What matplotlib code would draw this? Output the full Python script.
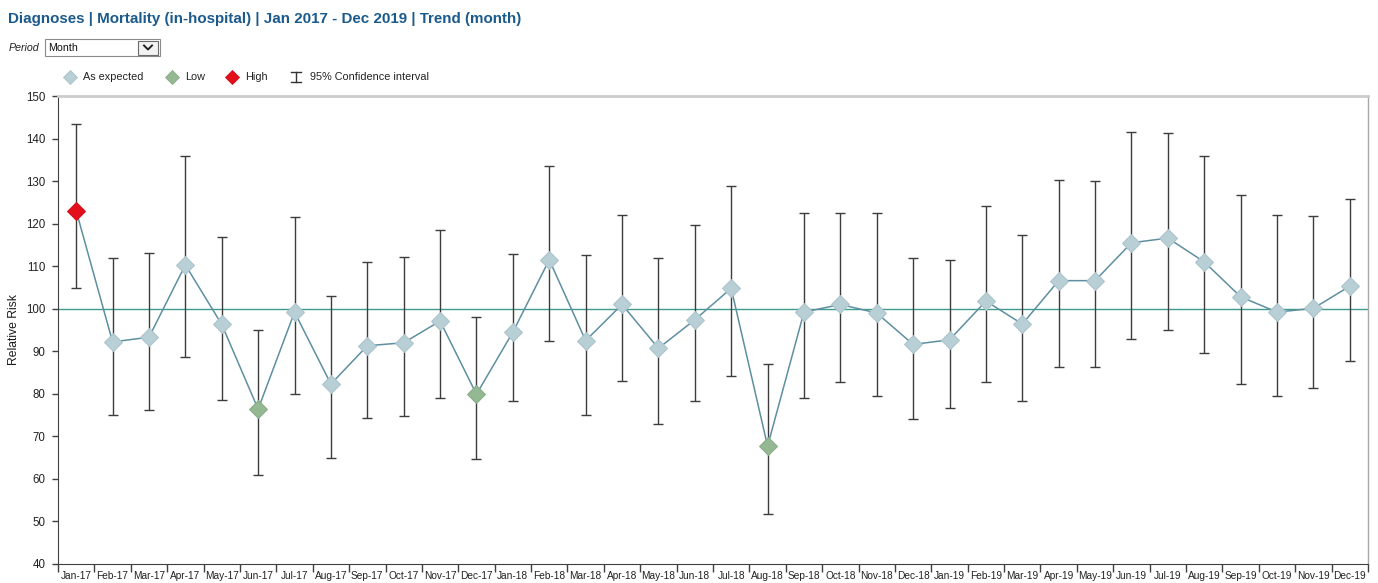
import matplotlib
matplotlib.use("Agg")
import matplotlib.pyplot as plt
from matplotlib.lines import Line2D
from matplotlib.patches import Rectangle
import numpy as np

plt.rcParams["font.family"] = ["Liberation Sans", "DejaVu Sans"]

# Monthly in-hospital mortality, relative risk with 95% confidence interval
months = ["Jan-17", "Feb-17", "Mar-17", "Apr-17", "May-17", "Jun-17",
          "Jul-17", "Aug-17", "Sep-17", "Oct-17", "Nov-17", "Dec-17",
          "Jan-18", "Feb-18", "Mar-18", "Apr-18", "May-18", "Jun-18",
          "Jul-18", "Aug-18", "Sep-18", "Oct-18", "Nov-18", "Dec-18",
          "Jan-19", "Feb-19", "Mar-19", "Apr-19", "May-19", "Jun-19",
          "Jul-19", "Aug-19", "Sep-19", "Oct-19", "Nov-19", "Dec-19"]

relative_risk = [123.0, 92.2, 93.3, 110.3, 96.3, 76.4,
                 99.2, 82.3, 91.3, 92.0, 97.1, 79.9,
                 94.5, 111.5, 92.5, 101.0, 90.7, 97.4,
                 104.8, 67.7, 99.2, 101.0, 99.0, 91.6,
                 92.7, 101.8, 96.4, 106.6, 106.6, 115.5,
                 116.6, 111.0, 102.8, 99.2, 100.1, 105.3]

ci_lower = [104.9, 75.0, 76.3, 88.7, 78.6, 60.9,
            80.0, 65.0, 74.3, 74.8, 78.9, 64.7,
            78.4, 92.3, 75.0, 83.1, 72.9, 78.4,
            84.2, 51.7, 79.1, 82.7, 79.4, 74.0,
            76.6, 82.7, 78.4, 86.4, 86.4, 93.0,
            95.1, 89.7, 82.3, 79.5, 81.4, 87.6]

ci_upper = [143.4, 111.9, 113.0, 135.9, 116.9, 95.1,
            121.6, 103.1, 110.9, 112.1, 118.4, 98.0,
            112.8, 133.5, 112.6, 122.0, 111.9, 119.6,
            128.8, 86.9, 122.4, 122.4, 122.4, 111.9,
            111.4, 124.1, 117.3, 130.2, 130.0, 141.5,
            141.2, 135.8, 126.7, 122.0, 121.7, 125.8]

# E = as expected, L = low, H = high
status = ["H", "E", "E", "E", "E", "L",
          "E", "E", "E", "E", "E", "L",
          "E", "E", "E", "E", "E", "E",
          "E", "L", "E", "E", "E", "E",
          "E", "E", "E", "E", "E", "E",
          "E", "E", "E", "E", "E", "E"]

y_ticks = [40, 50, 60, 70, 80, 90, 100, 110, 120, 130, 140, 150]

status_style = {
    "E": ("As expected", "#b9cfd6", "#a9c2ca"),
    "L": ("Low", "#93b892", "#86ab86"),
    "H": ("High", "#e3101b", "#d00d17"),
}

W, H = 1378, 583
fig = plt.figure(figsize=(W / 100, H / 100), dpi=100)
fig.patch.set_facecolor("white")


def fx(px):
    return px / W


def fy(py):
    return 1 - py / H


# Title
fig.text(fx(8), fy(19), "Diagnoses | Mortality (in-hospital) | Jan 2017 - Dec 2019 | Trend (month)",
         fontsize=10.9, fontweight="bold", color="#1b5a8c", ha="left", va="center")

# Period selector
fig.text(fx(9), fy(48), "Period", fontsize=7.7, style="italic", color="#222222",
         ha="left", va="center")
fig.add_artist(Rectangle((fx(45), fy(56)), fx(160) - fx(45), fy(39) - fy(56),
                         transform=fig.transFigure, facecolor="white",
                         edgecolor="#8a8a8a", lw=0.8))
fig.text(fx(48), fy(48), "Month", fontsize=7.7, color="#111111", ha="left", va="center")
fig.add_artist(Rectangle((fx(138), fy(54.5)), fx(158) - fx(138), fy(41) - fy(54.5),
                         transform=fig.transFigure, facecolor="#f2f2f2",
                         edgecolor="#6a6a6a", lw=0.8))
fig.add_artist(Line2D([fx(144), fx(148), fx(152)], [fy(45.5), fy(49.5), fy(45.5)],
                      transform=fig.transFigure, color="#222222", lw=1.4))

# Legend
legend_items = [(70, "E"), (172, "L"), (232, "H")]
for px, key in legend_items:
    label, fc, ec = status_style[key]
    fig.add_artist(Line2D([fx(px)], [fy(77)], marker="D", markersize=7.5,
                          markerfacecolor=fc, markeredgecolor=ec, markeredgewidth=0.6,
                          transform=fig.transFigure, linestyle="none"))
    fig.text(fx(px + 13), fy(77), label, fontsize=7.8, color="#222222",
             ha="left", va="center")
ci_x = 296
fig.add_artist(Line2D([fx(ci_x), fx(ci_x)], [fy(72), fy(82)],
                      transform=fig.transFigure, color="#333333", lw=1))
for cy in (72, 82):
    fig.add_artist(Line2D([fx(ci_x - 5), fx(ci_x + 5)], [fy(cy), fy(cy)],
                          transform=fig.transFigure, color="#333333", lw=1))
fig.text(fx(310), fy(77), "95% Confidence interval", fontsize=7.8, color="#222222",
         ha="left", va="center")

# Plot area
ax_left, ax_right, ax_top, ax_bottom = 58, 1368, 96, 564
ax = fig.add_axes([fx(ax_left), fy(ax_bottom), fx(ax_right) - fx(ax_left),
                   fy(ax_top) - fy(ax_bottom)])
ax.set_facecolor("white")

x = np.arange(len(months))
rr = np.array(relative_risk)
lo = np.array(ci_lower)
hi = np.array(ci_upper)

ax.axhline(100, color="#3f9c8c", lw=1, zorder=1)
ax.errorbar(x, rr, yerr=[rr - lo, hi - rr], fmt="none", ecolor="#3c3c3c",
            elinewidth=1, capsize=3.6, capthick=1, zorder=2)
ax.plot(x, rr, color="#5e8fa1", lw=1.1, zorder=3)

st = np.array(status)
for key, (label, fc, ec) in status_style.items():
    m = st == key
    ax.plot(x[m], rr[m], linestyle="none", marker="D", markersize=9.5,
            markerfacecolor=fc, markeredgecolor=ec, markeredgewidth=0.7, zorder=4)

ax.set_xlim(-0.5, len(months) - 0.5)
ax.set_ylim(40, 150)

# Tick marks on category boundaries, labels at category centers
ax.set_xticks(np.arange(-0.5, len(months), 1.0))
ax.set_xticklabels([])
ax.set_xticks(x, minor=True)
ax.set_xticklabels(months, minor=True, fontsize=7.3, color="#222222")
ax.tick_params(axis="x", which="major", length=6, width=1, color="#404040", direction="out")
ax.tick_params(axis="x", which="minor", length=0, pad=5)

ax.set_yticks(y_ticks)
ax.set_yticklabels([str(v) for v in y_ticks], fontsize=8.3, color="#222222")
ax.tick_params(axis="y", length=4, width=1, color="#404040", pad=5)

ax.set_ylabel("Relative Risk", fontsize=8.7, color="#1a1a1a")
ax.yaxis.set_label_coords((20 - ax_left) / (ax_right - ax_left), 0.5)

ax.spines["top"].set_color("#cccccc")
ax.spines["top"].set_linewidth(2)
ax.spines["right"].set_color("#a8a8a8")
ax.spines["right"].set_linewidth(1)
ax.spines["left"].set_color("#404040")
ax.spines["bottom"].set_color("#404040")

fig.savefig("out.png", dpi=100, facecolor="white")
